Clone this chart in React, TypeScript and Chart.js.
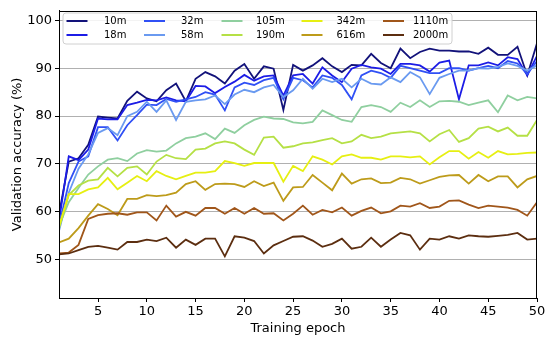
import React, { useEffect, useRef } from "react";
import { Chart, registerables } from "chart.js";

Chart.register(...registerables);

const epochs = Array.from({ length: 50 }, (_, i) => i + 1);

const seriesNames = ["10m", "18m", "32m", "58m", "105m", "190m", "342m", "616m", "1110m", "2000m"];

const acc10m = [59.5, 70.5, 71.2, 74.0, 79.9, 79.7, 79.5, 83.2, 85.1, 83.7, 83.1, 85.4, 86.8, 83.1, 87.8, 89.2, 88.3, 86.8, 89.5, 90.9, 87.8, 90.4, 89.9, 81.3, 90.7, 89.5, 90.6, 92.1, 90.4, 89.2, 90.7, 90.6, 93.0, 91.1, 90.0, 94.1, 92.1, 93.4, 94.1, 93.7, 93.7, 93.5, 93.5, 93.0, 94.3, 92.8, 92.8, 94.5, 88.5, 95.2];
const acc18m = [58.0, 71.6, 70.8, 73.0, 79.5, 79.3, 79.3, 82.3, 82.8, 83.4, 83.3, 83.9, 83.3, 83.1, 86.3, 86.2, 84.8, 86.1, 87.2, 88.6, 87.4, 88.3, 88.5, 84.3, 88.5, 88.8, 86.8, 90.2, 88.5, 87.1, 89.9, 90.7, 90.2, 89.9, 88.8, 90.9, 90.9, 90.6, 89.3, 91.2, 91.6, 83.5, 90.6, 90.6, 91.2, 90.6, 92.3, 91.9, 88.5, 92.6];
const acc32m = [57.0, 66.0, 70.5, 71.6, 77.7, 77.7, 74.9, 78.1, 80.2, 82.4, 82.3, 83.6, 83.0, 83.5, 84.0, 85.0, 84.5, 81.2, 86.0, 87.0, 86.5, 87.5, 88.0, 83.5, 88.0, 87.5, 86.0, 88.5, 88.0, 86.5, 83.5, 88.5, 89.5, 89.0, 88.0, 90.5, 90.0, 89.5, 89.0, 89.0, 90.0, 90.0, 89.5, 90.0, 90.5, 90.0, 91.5, 91.0, 88.8, 91.5];
const acc58m = [56.0, 64.0, 69.0, 72.0, 76.5, 77.5, 76.0, 80.0, 80.9, 83.0, 80.9, 83.3, 79.2, 83.0, 83.3, 83.5, 84.3, 82.5, 84.5, 85.5, 85.0, 86.0, 86.5, 84.0, 85.4, 87.8, 85.7, 87.8, 87.1, 87.8, 86.0, 87.8, 86.8, 86.6, 88.1, 87.1, 89.2, 88.1, 84.6, 88.0, 88.8, 89.5, 89.5, 90.0, 89.9, 90.3, 91.0, 90.5, 89.5, 90.6];
const acc105m = [57.0, 62.0, 65.0, 67.8, 69.5, 70.9, 71.2, 70.6, 72.2, 72.9, 72.6, 72.8, 74.3, 75.4, 75.7, 76.4, 75.2, 77.4, 76.5, 78.1, 79.2, 79.9, 79.5, 79.4, 78.7, 78.5, 78.8, 81.2, 80.2, 79.2, 78.8, 81.9, 82.3, 81.9, 80.9, 82.8, 81.9, 83.3, 81.9, 83.1, 83.2, 83.0, 82.3, 82.8, 83.3, 80.8, 84.3, 83.3, 84.0, 83.7];
const acc190m = [56.5, 63.5, 65.5, 66.5, 66.8, 69.2, 67.4, 69.2, 69.5, 67.8, 70.5, 71.9, 71.2, 71.0, 73.0, 73.2, 74.3, 74.7, 74.3, 73.0, 71.9, 75.5, 75.7, 73.4, 73.7, 74.3, 74.5, 75.0, 75.4, 74.3, 74.7, 76.1, 75.4, 75.7, 76.4, 76.6, 76.8, 76.4, 74.7, 76.2, 77.1, 74.6, 75.4, 77.4, 77.8, 76.8, 77.6, 75.9, 75.9, 79.2];
const acc342m = [57.0, 63.7, 63.7, 64.7, 65.1, 67.1, 64.7, 66.1, 67.5, 66.4, 68.5, 67.5, 66.8, 67.5, 68.2, 68.2, 68.5, 70.6, 70.2, 69.6, 70.2, 70.2, 70.2, 66.3, 69.6, 68.5, 71.6, 70.9, 69.9, 71.6, 72.0, 71.3, 71.3, 70.9, 71.6, 71.6, 71.4, 71.6, 69.9, 71.4, 72.7, 72.7, 71.1, 72.5, 71.3, 72.7, 72.0, 72.1, 72.3, 72.4];
const acc616m = [53.6, 54.4, 56.6, 59.2, 61.6, 60.6, 59.3, 62.7, 62.7, 63.5, 63.3, 63.5, 64.0, 65.8, 66.4, 64.6, 65.8, 65.9, 65.8, 65.2, 66.4, 65.4, 66.1, 62.3, 65.1, 65.2, 67.7, 66.1, 64.5, 68.0, 65.9, 66.8, 67.0, 66.0, 66.1, 67.1, 66.8, 65.9, 66.6, 67.3, 67.6, 67.7, 65.9, 67.7, 66.4, 67.4, 67.4, 65.1, 66.8, 67.5];
const acc1110m = [51.3, 51.5, 53.1, 58.5, 59.3, 59.6, 59.7, 59.4, 59.9, 59.9, 58.2, 61.3, 59.0, 60.0, 59.2, 60.8, 60.8, 59.6, 60.8, 59.6, 60.8, 59.6, 59.7, 58.2, 59.6, 61.3, 59.4, 60.4, 59.9, 60.9, 59.2, 60.2, 60.9, 59.7, 60.1, 61.3, 61.1, 61.8, 60.8, 61.1, 62.3, 62.4, 61.5, 60.8, 61.3, 61.1, 60.9, 60.4, 59.2, 62.0];
const acc2000m = [51.1, 51.3, 52.0, 52.7, 52.9, 52.5, 52.1, 53.7, 53.7, 54.2, 53.9, 54.6, 52.5, 54.2, 53.1, 54.4, 54.4, 50.7, 54.9, 54.6, 53.9, 51.3, 53.0, 53.9, 54.8, 54.9, 54.0, 52.7, 53.3, 54.4, 52.3, 52.7, 54.6, 52.7, 54.2, 55.6, 55.1, 52.1, 54.4, 54.2, 54.9, 54.4, 55.1, 54.9, 54.8, 55.0, 55.2, 55.6, 54.2, 54.4];

const allSeries = [acc10m, acc18m, acc32m, acc58m, acc105m, acc190m, acc342m, acc616m, acc1110m, acc2000m];

const seriesColors = ["#12127a", "#1c1ce6", "#3050f5", "#6a9af0", "#8fcf9f", "#b5e045", "#e6ef12", "#bd9b1a", "#a0561a", "#5c2e10"];

const xTickValues = [5, 10, 15, 20, 25, 30, 35, 40, 45, 50];
const yTickValues = [50, 60, 70, 80, 90, 100];

const FONT = "'DejaVu Sans', sans-serif";

const framePlugin = {
  id: "frameAndLegend",
  afterDraw(chart: any) {
    const { ctx, chartArea } = chart;
    ctx.save();
    // frame
    ctx.strokeStyle = "#000";
    ctx.lineWidth = 1;
    ctx.strokeRect(
      Math.round(chartArea.left) + 0.5,
      Math.round(chartArea.top) + 0.5,
      Math.round(chartArea.right - chartArea.left) - 1,
      Math.round(chartArea.bottom - chartArea.top)
    );
    // legend box
    const bx = 63, by = 13, bw = 389, bh = 31, r = 3;
    ctx.beginPath();
    ctx.moveTo(bx + r, by);
    ctx.lineTo(bx + bw - r, by);
    ctx.quadraticCurveTo(bx + bw, by, bx + bw, by + r);
    ctx.lineTo(bx + bw, by + bh - r);
    ctx.quadraticCurveTo(bx + bw, by + bh, bx + bw - r, by + bh);
    ctx.lineTo(bx + r, by + bh);
    ctx.quadraticCurveTo(bx, by + bh, bx, by + bh - r);
    ctx.lineTo(bx, by + r);
    ctx.quadraticCurveTo(bx, by, bx + r, by);
    ctx.closePath();
    ctx.fillStyle = "rgba(255,255,255,0.85)";
    ctx.fill();
    ctx.strokeStyle = "#d0d0d0";
    ctx.stroke();
    const colLine = [66.5, 144, 221.5, 301.5, 383];
    const colText = [104, 181, 256, 336.5, 413];
    const rowY = [21, 35];
    ctx.font = `10px ${FONT}`;
    ctx.textBaseline = "middle";
    ctx.textAlign = "left";
    seriesNames.forEach((name, i) => {
      const c = Math.floor(i / 2);
      const rr = i % 2;
      ctx.strokeStyle = seriesColors[i];
      ctx.lineWidth = 2;
      ctx.beginPath();
      ctx.moveTo(colLine[c], rowY[rr]);
      ctx.lineTo(colLine[c] + 21, rowY[rr]);
      ctx.stroke();
      ctx.fillStyle = "#000";
      ctx.fillText(name, colText[c], rowY[rr]);
    });
    ctx.restore();
  },
};

export default function App() {
  const ref = useRef<HTMLCanvasElement | null>(null);

  useEffect(() => {
    if (!ref.current) return;
    const datasets = seriesNames.map((name, i) => ({
      label: name,
      data: epochs.map((e, j) => ({ x: e, y: allSeries[i][j] })),
      borderColor: seriesColors[i],
      backgroundColor: seriesColors[i],
      borderWidth: 1.8,
      pointRadius: 0,
      tension: 0,
      fill: false,
      order: 20 - i,
    }));
    const chart = new Chart(ref.current, {
      type: "line",
      data: { datasets },
      plugins: [framePlugin],
      options: {
        animation: false,
        responsive: false,
        devicePixelRatio: 1,
        layout: { padding: { top: 8, right: 13, left: 0, bottom: 0 } },
        plugins: { legend: { display: false }, tooltip: { enabled: false } },
        scales: {
          x: {
            type: "linear",
            min: 1,
            max: 50,
            afterFit: (s: any) => { s.height = 43; },
            afterBuildTicks: (s: any) => { s.ticks = xTickValues.map((v) => ({ value: v })); },
            grid: { display: true, drawOnChartArea: false, drawTicks: true, tickLength: 4, tickColor: "#000" },
            border: { display: true, color: "#000" },
            ticks: { color: "#000", font: { family: FONT, size: 13 }, padding: 2, autoSkip: false, maxRotation: 0 },
            title: { display: true, text: "Training epoch", color: "#000", font: { family: FONT, size: 13 }, padding: { top: 0, bottom: 5 } },
          },
          y: {
            type: "linear",
            min: 42,
            max: 102,
            afterFit: (s: any) => { s.width = 59; },
            afterBuildTicks: (s: any) => { s.ticks = yTickValues.map((v) => ({ value: v })); },
            grid: { display: true, color: "#b0b0b0", lineWidth: 1, drawTicks: true, tickLength: 4, tickColor: "#000" },
            border: { display: true, color: "#000" },
            ticks: { color: "#000", font: { family: FONT, size: 13 }, padding: 3, autoSkip: false },
            title: { display: true, text: "Validation accuracy (%)", color: "#000", font: { family: FONT, size: 13 }, padding: { top: 10, bottom: 0 } },
          },
        },
      },
    } as any);
    return () => chart.destroy();
  }, []);

  return (
    <div style={{ position: "fixed", left: 0, top: 0, width: 550, height: 341, background: "#fff" }}>
      <canvas ref={ref} width={550} height={341} style={{ display: "block", width: 550, height: 341 }} />
    </div>
  );
}
